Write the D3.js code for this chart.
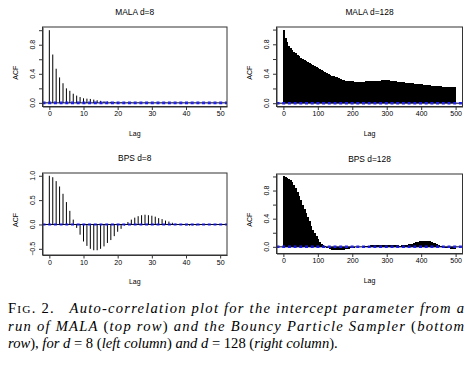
<!DOCTYPE html>
<html lang="en">
<head>
<meta charset="utf-8"/>
<title>ACF plots</title>
<script src="https://d3js.org/d3.v7.min.js"></script>
<style>
  body { margin: 0; background: #fff; }
  svg text { font-family: "Liberation Sans", Arial, sans-serif; }
  svg text.cap { font-family: "Liberation Serif", "Times New Roman", serif; }
</style>
</head>
<body>
<script>
// data
var lagsSmall = d3.range(0, 51);          // lags 0..50
var lagsBig = d3.range(0, 501, 5);        // lags 0..500, read every 5th

var malaD8 = [1.0, 0.665, 0.47, 0.35, 0.27, 0.2, 0.166, 0.126, 0.1, 0.08,
  0.063, 0.058, 0.054, 0.045, 0.036, 0.028, 0.022, 0.018, 0.014, 0.011,
  0.009, 0.008, 0.007, 0.006, 0.005, 0.005, 0.004, 0.004, 0.003, 0.003,
  0.003, 0.002, 0.002, 0.002, 0.002, 0.001, 0.001, 0.001, 0.001, 0.001,
  0.001, 0.001, 0.001, 0.0, 0.0, 0.0, 0.0, 0.0, 0.0, 0.0, 0.0];

var malaD128 = [1.0, 0.89, 0.83, 0.78, 0.75, 0.72, 0.70, 0.68, 0.66, 0.64,
  0.62, 0.605, 0.59, 0.575, 0.56, 0.545, 0.53, 0.52, 0.505, 0.49,
  0.48, 0.465, 0.45, 0.435, 0.42, 0.41, 0.395, 0.385, 0.375, 0.365,
  0.36, 0.35, 0.345, 0.335, 0.32, 0.31, 0.305, 0.30, 0.30, 0.298,
  0.295, 0.293, 0.29, 0.29, 0.29, 0.29, 0.29, 0.292, 0.295, 0.297,
  0.30, 0.30, 0.302, 0.303, 0.305, 0.307, 0.308, 0.31, 0.31, 0.31,
  0.31, 0.31, 0.308, 0.305, 0.30, 0.295, 0.29, 0.288, 0.287, 0.285,
  0.283, 0.28, 0.28, 0.278, 0.275, 0.27, 0.265, 0.262, 0.26, 0.258,
  0.255, 0.253, 0.25, 0.248, 0.245, 0.243, 0.24, 0.237, 0.235, 0.232,
  0.23, 0.227, 0.225, 0.222, 0.22, 0.218, 0.215, 0.217, 0.218, 0.217, 0.215];

var bpsD8 = [1.0, 0.97, 0.89, 0.78, 0.63, 0.46, 0.28, 0.1, -0.07, -0.21,
  -0.35, -0.44, -0.5, -0.53, -0.53, -0.5, -0.45, -0.38, -0.32, -0.24,
  -0.15, -0.09, -0.02, 0.05, 0.1, 0.14, 0.17, 0.19, 0.2, 0.19,
  0.18, 0.16, 0.13, 0.11, 0.08, 0.06, 0.035, 0.015, 0.0, -0.01,
  -0.02, -0.025, -0.02, -0.02, -0.015, -0.01, -0.005, 0.0, 0.005, 0.01, 0.01];

var bpsD128 = [1.0, 0.995, 0.985, 0.965, 0.945, 0.915, 0.88, 0.835, 0.785, 0.725,
  0.665, 0.60, 0.54, 0.48, 0.42, 0.36, 0.30, 0.245, 0.195, 0.15,
  0.11, 0.075, 0.045, 0.02, 0.005, -0.01, -0.02, -0.03, -0.04, -0.045,
  -0.05, -0.052, -0.052, -0.05, -0.047, -0.043, -0.038, -0.033, -0.028, -0.023,
  -0.018, -0.013, -0.009, -0.005, -0.002, 0.001, 0.004, 0.007, 0.01, 0.013,
  0.016, 0.019, 0.022, 0.024, 0.026, 0.028, 0.029, 0.03, 0.03, 0.03,
  0.029, 0.028, 0.026, 0.024, 0.022, 0.02, 0.019, 0.018, 0.018, 0.019,
  0.021, 0.024, 0.028, 0.033, 0.039, 0.046, 0.054, 0.062, 0.07, 0.076,
  0.081, 0.084, 0.085, 0.084, 0.081, 0.076, 0.069, 0.06, 0.05, 0.039,
  0.028, 0.017, 0.007, -0.002, -0.01, -0.017, -0.022, -0.026, -0.029, -0.031, -0.032];

var ciBound = 0.01;   // blue dashed band (+/-)

var titles = ["MALA d=8", "MALA d=128", "BPS d=8", "BPS d=128"];
var xTicksSmall = [0, 10, 20, 30, 40, 50];
var xTicksBig = [0, 100, 200, 300, 400, 500];
var yTicksA = [0, 0.2, 0.4, 0.6, 0.8, 1.0];
var yLabelsA = [0, 0.4, 0.8];
var yTicksB = [-0.5, 0, 0.5, 1.0];

var w = 469, h = 377;
var svg = d3.select("body").append("svg").attr("width", w).attr("height", h);

// panel layout
var panels = [
  {title: titles[0], lags: lagsSmall, vals: malaD8, step: 1, xd: [-2, 52], yd: [-0.05, 1.044],
   x0: 42.5, x1: 227, y0: 27, y1: 106.5, xt: xTicksSmall, yt: yTicksA, yl: yLabelsA},
  {title: titles[1], lags: lagsBig, vals: malaD128, step: 5, xd: [-20, 520], yd: [-0.045, 1.035],
   x0: 276.5, x1: 462.5, y0: 27, y1: 106.5, xt: xTicksBig, yt: yTicksA, yl: yLabelsA},
  {title: titles[2], lags: lagsSmall, vals: bpsD8, step: 1, xd: [-2, 52], yd: [-0.627, 1.057],
   x0: 42.5, x1: 227, y0: 173, y1: 255, xt: xTicksSmall, yt: yTicksB, yl: yTicksB},
  {title: titles[3], lags: lagsBig, vals: bpsD128, step: 5, xd: [-20, 520], yd: [-0.095, 1.035],
   x0: 276.5, x1: 462.5, y0: 174, y1: 253.5, xt: xTicksBig, yt: yTicksA, yl: yLabelsA}
];

var fmt = function(v) { return d3.format(".1f")(v); };

panels.forEach(function(p) {
  var x = d3.scaleLinear().domain(p.xd).range([p.x0, p.x1]);
  var y = d3.scaleLinear().domain(p.yd).range([p.y1, p.y0]);
  var g = svg.append("g");
  var cx = (p.x0 + p.x1) / 2;

  // spikes
  if (p.step === 1) {
    g.selectAll("line.spike")
      .data(p.vals)
      .enter()
      .append("line")
      .attr("class", "spike")
      .attr("x1", function(d, i) { return x(p.lags[i]); })
      .attr("x2", function(d, i) { return x(p.lags[i]); })
      .attr("y1", y(0))
      .attr("y2", function(d) { return y(d); })
      .attr("stroke", "#000")
      .attr("stroke-width", 1);
  } else {
    // dense spikes: one slab per read-off lag, slightly overlapping
    var bw = x(p.step) - x(0);
    g.selectAll("rect.spike")
      .data(p.vals)
      .enter()
      .append("rect")
      .attr("class", "spike")
      .attr("x", function(d, i) { return x(p.lags[i]) - (i === 0 ? 0.5 : bw / 2); })
      .attr("width", function(d, i) { return i === 0 ? bw / 2 + 0.5 + 0.6 : (i === p.vals.length - 1 ? bw / 2 + 0.5 : bw + 0.6); })
      .attr("y", function(d) { return Math.min(y(0), y(d)); })
      .attr("height", function(d) { return Math.abs(y(d) - y(0)); })
      .attr("fill", "#000")
      .attr("shape-rendering", "crispEdges");
  }

  // zero line
  g.append("line")
    .attr("x1", p.x0).attr("x2", p.x1)
    .attr("y1", y(0)).attr("y2", y(0))
    .attr("stroke", "#000").attr("stroke-width", 1);

  // confidence band lines
  [ciBound, -ciBound].forEach(function(c) {
    g.append("line")
      .attr("x1", p.x0).attr("x2", p.x1)
      .attr("y1", y(c)).attr("y2", y(c))
      .attr("stroke", "#1a1aff").attr("stroke-width", 1.1)
      .attr("stroke-dasharray", "3,2.7");
  });

  // box
  g.append("rect")
    .attr("x", p.x0).attr("y", p.y0)
    .attr("width", p.x1 - p.x0).attr("height", p.y1 - p.y0)
    .attr("fill", "none").attr("stroke", "#333").attr("stroke-width", 1);

  // x axis
  var xAxis = d3.axisBottom(x).tickValues(p.xt).tickSize(3.5).tickPadding(1.5)
    .tickSizeOuter(0).tickFormat(d3.format("d"));
  var ax = g.append("g").attr("transform", "translate(0," + p.y1 + ")").call(xAxis);
  ax.selectAll("text").attr("font-size", 7).attr("font-family", "Liberation Sans").attr("fill", "#000");
  ax.select(".domain").attr("stroke", "#333");
  ax.selectAll("line").attr("stroke", "#333");

  // y axis
  var yAxis = d3.axisLeft(y).tickValues(p.yt).tickSize(3.5).tickSizeOuter(0).tickFormat("");
  var ay = g.append("g").attr("transform", "translate(" + p.x0 + ",0)").call(yAxis);
  ay.select(".domain").attr("stroke", "#333");
  ay.selectAll("line").attr("stroke", "#333");
  g.selectAll("text.ylab")
    .data(p.yl)
    .enter()
    .append("text")
    .attr("class", "ylab")
    .attr("transform", function(d) { return "translate(" + (p.x0 - 8) + "," + y(d) + ") rotate(-90)"; })
    .attr("text-anchor", "middle")
    .attr("font-size", 7)
    .text(fmt);

  // titles and axis labels
  g.append("text").attr("x", cx).attr("y", p.y0 - 12)
    .attr("text-anchor", "middle").attr("font-size", 8.4).text(p.title);
  g.append("text").attr("x", cx).attr("y", p.y1 + 29)
    .attr("text-anchor", "middle").attr("font-size", 7).text("Lag");
  g.append("text")
    .attr("transform", "translate(" + (p.x0 - 25) + "," + ((p.y0 + p.y1) / 2 + 6) + ") rotate(-90)")
    .attr("text-anchor", "middle").attr("font-size", 7).text("ACF");
});

// caption
var cap = svg.append("g");
var fs = 14.6;
var l1 = cap.append("text").attr("class", "cap").attr("x", 8).attr("y", 313)
  .attr("font-size", fs).attr("textLength", 456).attr("lengthAdjust", "spacing");
l1.append("tspan").text("F");
l1.append("tspan").attr("font-size", fs * 0.78).text("IG");
l1.append("tspan").text(". 2.\u00a0\u00a0\u00a0");
l1.append("tspan").attr("font-style", "italic").text("Auto-correlation plot for the intercept parameter from a");

var l2 = cap.append("text").attr("class", "cap").attr("x", 8).attr("y", 330.5)
  .attr("font-size", fs).attr("textLength", 456).attr("lengthAdjust", "spacing");
[["run of MALA ", true], ["(", false], ["top row", true], [") ", false],
 ["and the Bouncy Particle Sampler ", true], ["(", false], ["bottom", true]].forEach(function(s) {
  l2.append("tspan").attr("font-style", s[1] ? "italic" : "normal").text(s[0]);
});

var l3 = cap.append("text").attr("class", "cap").attr("x", 8).attr("y", 348)
  .attr("font-size", fs);
[["row", true], ["), ", false], ["for d ", true], ["= 8 (", false], ["left column", true],
 [") ", false], ["and d ", true], ["= 128 (", false], ["right column", true], [").", false]].forEach(function(s) {
  l3.append("tspan").attr("font-style", s[1] ? "italic" : "normal").text(s[0]);
});
</script>
</body>
</html>
